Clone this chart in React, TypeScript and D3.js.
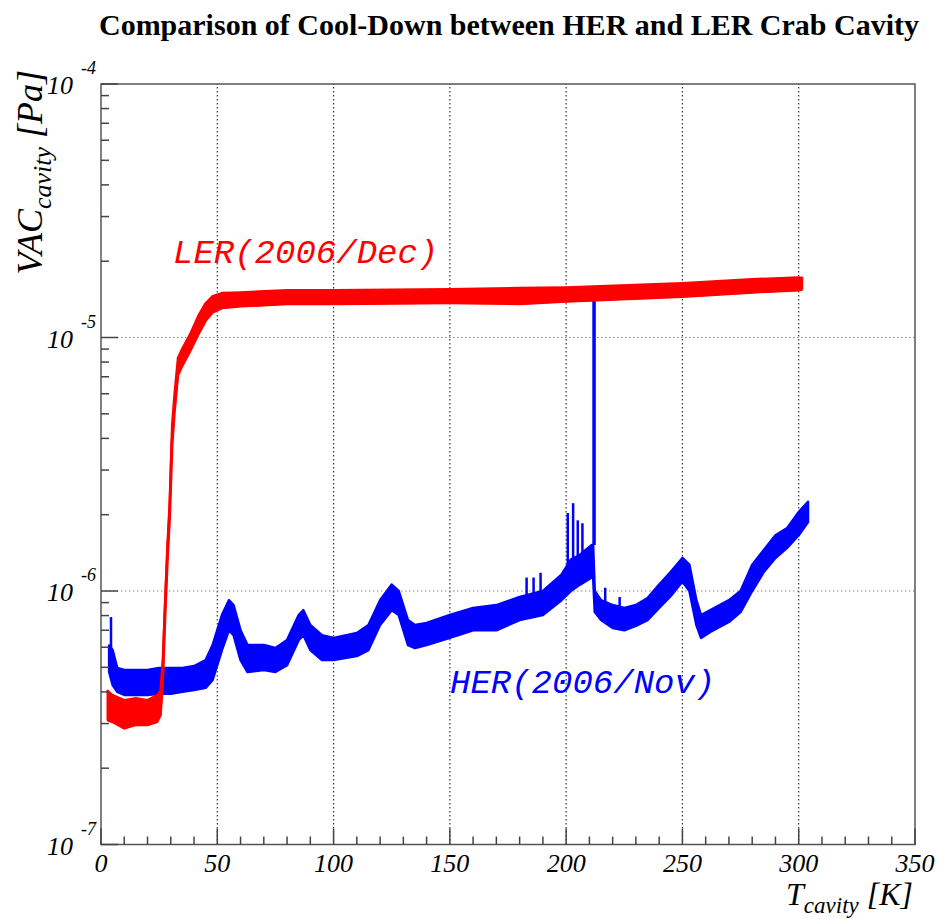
import React from "react";
import * as d3 from "d3";

const W = 937;
const H = 919;

const titleText = "Comparison of Cool-Down between HER and LER Crab Cavity";
const xTickValues = [0, 50, 100, 150, 200, 250, 300, 350];
const xMinorStep = 10;
const yDecades = [1e-7, 1e-6, 1e-5, 1e-4];
const yDecadeExponents = ["-7", "-6", "-5", "-4"];
const xDomain = [0, 350];
const yDomain = [1e-7, 1e-4];

// HER (2006/Nov): temperature [K], lower and upper edge of the noisy band [Pa]
const herT = [3.5, 5, 7, 10, 15, 20, 25, 30, 35, 40, 45, 48, 52, 55, 57, 60, 63, 70, 75, 80, 85, 87, 90, 95, 100, 110, 115, 120, 125, 128, 132, 135, 140, 150, 160, 170, 180, 190, 198, 202, 206, 211, 211.6, 212.3, 215, 220, 225, 230, 235, 240, 245, 250, 253, 256, 258, 262, 270, 275, 280, 285, 290, 295, 300, 304];
const herLo = [4.8e-7, 4.26e-7, 4.0e-7, 3.89e-7, 3.89e-7, 3.89e-7, 3.93e-7, 3.93e-7, 4.0e-7, 4.07e-7, 4.15e-7, 4.46e-7, 5.85e-7, 7.0e-7, 6.7e-7, 5.34e-7, 4.79e-7, 4.88e-7, 4.79e-7, 5.1e-7, 6.4e-7, 6.7e-7, 5.85e-7, 5.34e-7, 5.34e-7, 5.54e-7, 5.85e-7, 7.34e-7, 8.4e-7, 8.04e-7, 6.12e-7, 5.96e-7, 6.12e-7, 6.53e-7, 7.0e-7, 7.0e-7, 7.68e-7, 8.04e-7, 9.2e-7, 1.0e-6, 1.06e-6, 1.13e-6, 1.13e-6, 8.26e-7, 7.68e-7, 7.15e-7, 7.0e-7, 7.28e-7, 7.68e-7, 8.57e-7, 9.56e-7, 1.09e-6, 1.0e-6, 7.34e-7, 6.53e-7, 6.89e-7, 7.55e-7, 8.26e-7, 1.0e-6, 1.19e-6, 1.35e-6, 1.48e-6, 1.66e-6, 1.87e-6];
const herHi = [6.1e-7, 5.85e-7, 4.97e-7, 4.88e-7, 4.88e-7, 4.88e-7, 4.97e-7, 4.97e-7, 4.97e-7, 5.06e-7, 5.34e-7, 6.12e-7, 8.04e-7, 9.2e-7, 8.8e-7, 7.0e-7, 6.12e-7, 6.12e-7, 5.96e-7, 6.4e-7, 8.04e-7, 8.4e-7, 7.34e-7, 6.7e-7, 6.53e-7, 6.83e-7, 7.34e-7, 9.2e-7, 1.06e-6, 1.0e-6, 7.68e-7, 7.34e-7, 7.48e-7, 8.04e-7, 8.57e-7, 8.8e-7, 9.47e-7, 1.0e-6, 1.16e-6, 1.33e-6, 1.39e-6, 1.52e-6, 1.52e-6, 1.0e-6, 9.2e-7, 8.8e-7, 8.57e-7, 8.8e-7, 9.38e-7, 1.06e-6, 1.19e-6, 1.35e-6, 1.27e-6, 9.2e-7, 8.04e-7, 8.4e-7, 9.2e-7, 1.0e-6, 1.27e-6, 1.45e-6, 1.66e-6, 1.77e-6, 2.05e-6, 2.25e-6];

// HER outgassing spikes: temperature, band level, spike top [Pa]
const herSpikeT = [4.3, 183, 186, 189, 200.7, 203, 205, 207, 212, 216.8, 223];
const herSpikeBase = [5.85e-7, 9.2e-7, 9.3e-7, 9.6e-7, 1.27e-6, 1.33e-6, 1.33e-6, 1.39e-6, 1.52e-6, 8.8e-7, 8.2e-7];
const herSpikeTop = [7.89e-7, 1.13e-6, 1.13e-6, 1.18e-6, 2.03e-6, 2.22e-6, 1.9e-6, 1.85e-6, 1.58e-5, 1.03e-6, 9.47e-7];

// LER (2006/Dec): temperature [K], lower and upper edge of the noisy band [Pa]
const lerT = [2.8, 5, 10, 15, 20, 24, 25.5, 26.5, 27.5, 28.5, 29.5, 30.5, 31.5, 33, 35, 38, 42, 45, 48, 52, 60, 80, 100, 150, 180, 200, 250, 280, 300, 301.5];
const lerLo = [3.1e-7, 3.05e-7, 2.88e-7, 2.97e-7, 2.97e-7, 3.05e-7, 3.24e-7, 4.46e-7, 8.04e-7, 1.33e-6, 1.99e-6, 3.76e-6, 5.08e-6, 7.11e-6, 7.79e-6, 8.77e-6, 1.04e-5, 1.17e-5, 1.26e-5, 1.31e-5, 1.33e-5, 1.36e-5, 1.36e-5, 1.37e-5, 1.36e-5, 1.39e-5, 1.45e-5, 1.51e-5, 1.54e-5, 1.55e-5];
const lerHi = [4.05e-7, 3.89e-7, 3.72e-7, 3.78e-7, 3.72e-7, 3.89e-7, 4.05e-7, 5.34e-7, 9.2e-7, 1.52e-6, 2.28e-6, 4.52e-6, 5.93e-6, 8.3e-6, 9.09e-6, 1.02e-5, 1.23e-5, 1.37e-5, 1.46e-5, 1.5e-5, 1.51e-5, 1.54e-5, 1.54e-5, 1.555e-5, 1.57e-5, 1.58e-5, 1.64e-5, 1.7e-5, 1.73e-5, 1.72e-5];

const serif = "'Liberation Serif', 'Times New Roman', serif";
const mono = "'Liberation Mono', 'Courier New', monospace";

export default function App() {
  const x = d3.scaleLinear().domain(xDomain).range([101, 915]);
  const y = d3.scaleLog().domain(yDomain).range([844.5, 84]);
  const [x0, x1] = x.range();
  const [yb, yt] = y.range();

  const band = (T: number[], lo: number[], hi: number[]) =>
    d3
      .area<number>()
      .x((_, i) => x(T[i]))
      .y0((_, i) => y(lo[i]))
      .y1((_, i) => y(hi[i]))(T) || "";
  const edge = (T: number[], v: number[]) =>
    d3
      .line<number>()
      .x((_, i) => x(T[i]))
      .y((_, i) => y(v[i]))(T) || "";

  const xMinor = d3.range(xDomain[0], xDomain[1] + 0.1, xMinorStep).filter((v) => v % 50 !== 0);
  const yMinor: number[] = [];
  yDecades.slice(0, -1).forEach((d) => {
    for (let k = 2; k <= 9; k++) yMinor.push(k * d);
  });

  return (
    <svg width={W} height={H} style={{ position: "absolute", left: 0, top: 0, background: "#fff" }}>
      <text x={509} y={35} textAnchor="middle" fontFamily={serif} fontWeight="bold" fontSize={30} fill="#000">
        {titleText}
      </text>

      {/* grid */}
      {xTickValues.slice(1, -1).map((v) => (
        <line key={"gx" + v} x1={x(v)} x2={x(v)} y1={yb} y2={yt} stroke="#333" strokeWidth={1.2} strokeDasharray="1.5,2.5" />
      ))}
      {yDecades.slice(1, -1).map((v) => (
        <line key={"gy" + v} x1={x0} x2={x1} y1={y(v)} y2={y(v)} stroke="#888" strokeWidth={1.2} strokeDasharray="1.5,2.5" />
      ))}

      {/* data */}
      <path d={band(herT, herLo, herHi)} fill="#0000ff" stroke="#0000ff" strokeWidth={2.5} strokeLinejoin="round" />
      {herSpikeT.map((t, i) => (
        <line key={"sp" + i} x1={x(t)} x2={x(t)} y1={y(herSpikeBase[i])} y2={y(herSpikeTop[i])} stroke="#0000ff" strokeWidth={i === 8 ? 3.5 : 2.5} />
      ))}
      <path d={band(lerT, lerLo, lerHi)} fill="#ff0000" stroke="#ff0000" strokeWidth={2} strokeLinejoin="round" />
      <path d={edge(lerT, lerLo)} fill="none" stroke="#ff0000" strokeWidth={3} />

      {/* frame */}
      <rect x={x0} y={yt} width={x1 - x0} height={yb - yt} fill="none" stroke="#555" strokeWidth={1.5} />

      {/* x ticks */}
      {xTickValues.map((v) => (
        <line key={"xt" + v} x1={x(v)} x2={x(v)} y1={yb} y2={yb - 16} stroke="#444" strokeWidth={1.5} />
      ))}
      {xMinor.map((v) => (
        <line key={"xm" + v} x1={x(v)} x2={x(v)} y1={yb} y2={yb - 8} stroke="#444" strokeWidth={1.5} />
      ))}
      {xTickValues.map((v) => (
        <text key={"xl" + v} x={x(v)} y={872} textAnchor="middle" fontFamily={serif} fontStyle="italic" fontSize={26} fill="#000">
          {v}
        </text>
      ))}

      {/* y ticks */}
      {yDecades.map((v) => (
        <line key={"yt" + v} x1={x0} x2={x0 + 17} y1={y(v)} y2={y(v)} stroke="#444" strokeWidth={1.5} />
      ))}
      {yMinor.map((v) => (
        <line key={"ym" + v} x1={x0} x2={x0 + 8} y1={y(v)} y2={y(v)} stroke="#444" strokeWidth={1.5} />
      ))}
      {yDecades.map((v, i) => (
        <g key={"yl" + v}>
          <text x={73} y={y(v) + 10} textAnchor="end" fontFamily={serif} fontStyle="italic" fontSize={26} fill="#000">
            10
          </text>
          <text x={81} y={y(v) - 10} textAnchor="start" fontFamily={serif} fontStyle="italic" fontSize={18} fill="#000">
            {yDecadeExponents[i]}
          </text>
        </g>
      ))}

      {/* axis titles */}
      <text x={913} y={905} textAnchor="end" fontFamily={serif} fontStyle="italic" fontSize={32} fill="#000">
        T
        <tspan fontSize={23} dy={8}>cavity</tspan>
        <tspan dy={-8}> [K]</tspan>
      </text>
      <text transform="translate(42,70) rotate(-90)" textAnchor="end" fontFamily={serif} fontStyle="italic" fontSize={36} fill="#000">
        VAC
        <tspan fontSize={26} dy={9}>cavity</tspan>
        <tspan dy={-9}> [Pa]</tspan>
      </text>

      {/* series labels */}
      <text x={173} y={263} fontFamily={mono} fontStyle="italic" fontSize={34} fill="#ff0000">
        LER(2006/Dec)
      </text>
      <text x={450} y={693} fontFamily={mono} fontStyle="italic" fontSize={34} fill="#0000ff">
        HER(2006/Nov)
      </text>
    </svg>
  );
}
